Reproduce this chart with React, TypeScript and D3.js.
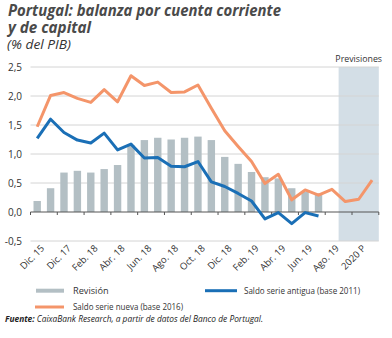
import React from "react";
import * as d3 from "d3";

const periods = [
  "Dic. 15", "Dic. 16", "Dic. 17", "Ene. 18", "Feb. 18", "Mar. 18", "Abr. 18", "May. 18",
  "Jun. 18", "Jul. 18", "Ago. 18", "Sep. 18", "Oct. 18", "Nov. 18", "Dic. 18", "Ene. 19",
  "Feb. 19", "Mar. 19", "Abr. 19", "May. 19", "Jun. 19", "Jul. 19", "Ago. 19", "2019 P",
  "2020 P", "2021 P",
];

const xTickLabels = [
  "Dic. 15", "Dic. 17", "Feb. 18", "Abr. 18", "Jun. 18", "Ago. 18", "Oct. 18",
  "Dic. 18", "Feb. 19", "Abr. 19", "Jun. 19", "Ago. 19", "2020 P",
];

const revision = [
  0.19, 0.41, 0.68, 0.71, 0.68, 0.74, 0.81, 1.15, 1.24, 1.28, 1.25, 1.28, 1.30,
  1.24, 0.95, 0.83, 0.69, 0.60, 0.58, 0.41, 0.35, 0.32, null, null, null, null,
];

const serieNueva = [
  1.47, 2.01, 2.06, 1.96, 1.89, 2.11, 1.90, 2.35, 2.18, 2.24, 2.06, 2.07, 2.19,
  1.79, 1.40, 1.13, 0.87, 0.49, 0.65, 0.21, 0.38, 0.29, 0.39, 0.18, 0.22, 0.55,
];

const serieAntigua = [
  1.27, 1.60, 1.37, 1.24, 1.19, 1.36, 1.07, 1.17, 0.93, 0.94, 0.79, 0.78, 0.87,
  0.52, 0.44, 0.32, 0.19, -0.12, -0.01, -0.20, -0.01, -0.07, null, null, null, null,
];

const yTicks = [-0.5, 0, 0.5, 1.0, 1.5, 2.0, 2.5];
const forecastStart = "2019 P";

const W = 392;
const H = 338;
const FONT = "'Open Sans', 'Noto Sans', sans-serif";

export default function App() {
  const x0 = 30.5;
  const x1 = 378.8;
  const x = d3.scaleBand<string>().domain(periods).range([x0, x1]).padding(0);
  const xl = d3.scaleBand<string>().domain(xTickLabels).range([x0, x1]).padding(0);
  const y = d3.scaleLinear().domain([-0.5, 2.5]).range([241, 67]);
  const cx = (p: string) => (x(p) as number) + x.bandwidth() / 2;
  const barW = 7.4;

  const lineGen = d3
    .line<[string, number | null]>()
    .defined((d) => d[1] !== null)
    .x((d) => cx(d[0]))
    .y((d) => y(d[1] as number));

  const nuevaPts = periods.map((p, i) => [p, serieNueva[i]] as [string, number | null]);
  const antiguaPts = periods.map((p, i) => [p, serieAntigua[i]] as [string, number | null]);
  const fmt = (v: number) => d3.format(".1f")(v).replace(".", ",").replace("−", "-");

  const shadeX = x(forecastStart) as number;

  return (
    <svg width={W} height={H} style={{ position: "absolute", left: 0, top: 0, background: "#fff" }}>
      <text x={8} y={15.5} fontFamily={FONT} fontWeight={700} fontStyle="italic" fontSize={15.2} fill="#4a4a4a" textLength={273} lengthAdjust="spacingAndGlyphs">
        Portugal: balanza por cuenta corriente
      </text>
      <text x={8} y={32.5} fontFamily={FONT} fontWeight={700} fontStyle="italic" fontSize={15.2} fill="#4a4a4a">
        y de capital
      </text>
      <text x={7} y={48.5} fontFamily={FONT} fontStyle="italic" fontSize={12} fill="#333" textLength={64} lengthAdjust="spacingAndGlyphs">
        (% del PIB)
      </text>

      <rect x={shadeX} y={y(2.5)} width={x1 - shadeX} height={y(-0.5) - y(2.5)} fill="#d3dee6" />
      <text x={(shadeX + x1) / 2} y={61.5} textAnchor="middle" fontFamily={FONT} fontSize={8.8} fill="#333">
        Previsiones
      </text>

      {yTicks.map((t) => (
        <g key={t}>
          {t !== 0 && <line x1={x0} x2={x1} y1={y(t)} y2={y(t)} stroke="#d4d4d4" strokeWidth={1} />}
          <text x={22} y={y(t)} dy="0.35em" textAnchor="end" fontFamily={FONT} fontSize={10} fill="#333">
            {fmt(t)}
          </text>
        </g>
      ))}

      {periods.map((p, i) =>
        revision[i] !== null ? (
          <rect key={p} x={cx(p) - barW / 2} y={y(revision[i] as number)} width={barW} height={y(0) - y(revision[i] as number)} fill="#b3bfc4" />
        ) : null
      )}

      <line x1={x0} x2={x1} y1={y(0)} y2={y(0)} stroke="#555" strokeWidth={1} />
      {[...xTickLabels.map((l) => xl(l) as number), x1].map((tx, i) => (
        <line key={i} x1={tx} x2={tx} y1={y(0)} y2={y(0) + 3} stroke="#555" strokeWidth={1} />
      ))}

      <path d={lineGen(antiguaPts) || ""} fill="none" stroke="#1a6fb6" strokeWidth={3} strokeLinejoin="round" />
      <path d={lineGen(nuevaPts) || ""} fill="none" stroke="#f4956a" strokeWidth={3} strokeLinejoin="round" />

      {xTickLabels.map((l) => {
        const tx = (xl(l) as number) + xl.bandwidth() / 2 + 1;
        const ty = 249;
        return (
          <text key={l} x={tx} y={ty} transform={`rotate(-45 ${tx} ${ty})`} textAnchor="end" fontFamily={FONT} fontSize={9.5} fill="#333">
            {l}
          </text>
        );
      })}

      <line x1={36} x2={64} y1={290.7} y2={290.7} stroke="#b3bfc4" strokeWidth={4} />
      <text x={73} y={290.7} dy="0.35em" fontFamily={FONT} fontSize={9.2} fill="#333">Revisión</text>
      <line x1={205} x2={237} y1={290.7} y2={290.7} stroke="#1a6fb6" strokeWidth={3} />
      <text x={244} y={290.7} dy="0.35em" fontFamily={FONT} fontSize={9.2} fill="#333" textLength={116} lengthAdjust="spacingAndGlyphs">Saldo serie antigua (base 2011)</text>
      <line x1={35} x2={64} y1={307} y2={307} stroke="#f4956a" strokeWidth={3} />
      <text x={73} y={306.5} dy="0.35em" fontFamily={FONT} fontSize={9} fill="#333" textLength={110} lengthAdjust="spacingAndGlyphs">Saldo serie nueva (base 2016)</text>

      <text x={5} y={321.5} fontFamily={FONT} fontSize={8.5} fill="#222" fontStyle="italic" textLength={258} lengthAdjust="spacingAndGlyphs">
        <tspan fontWeight={700}>Fuente:</tspan> CaixaBank Research, a partir de datos del Banco de Portugal.
      </text>
    </svg>
  );
}
